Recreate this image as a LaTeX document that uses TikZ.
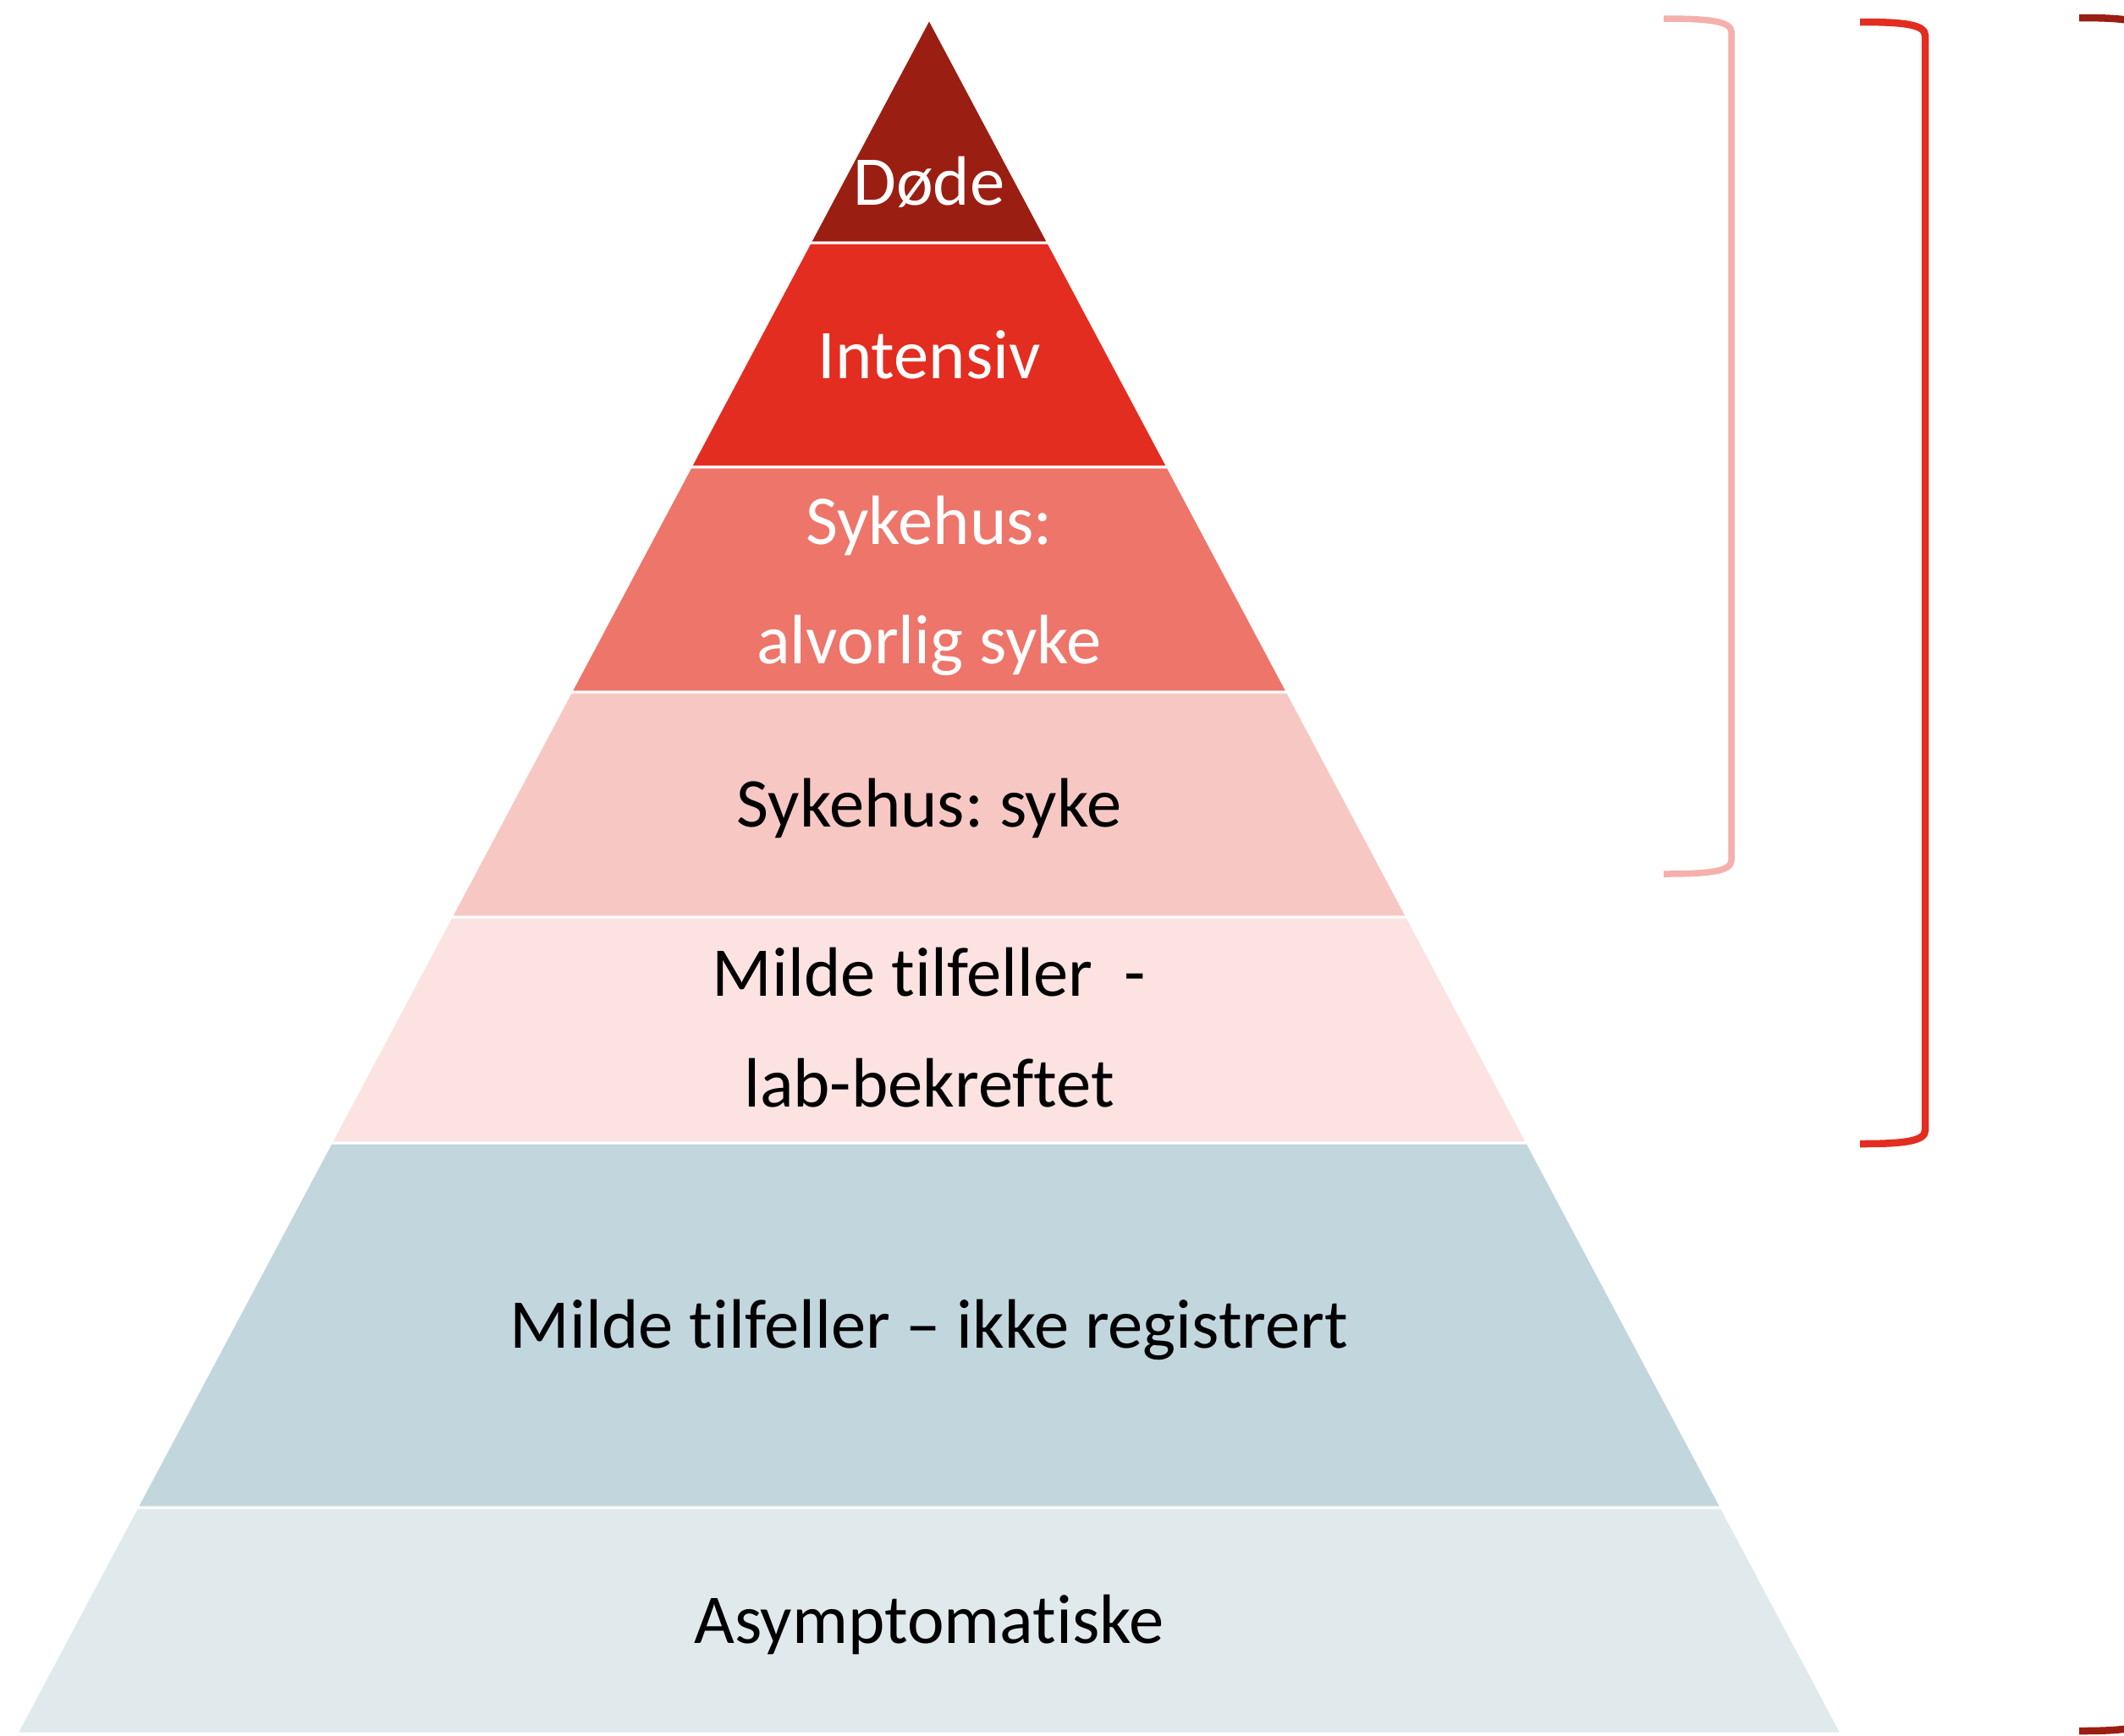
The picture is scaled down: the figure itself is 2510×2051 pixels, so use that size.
\documentclass[tikz,border=0pt]{standalone}
\usepackage{fontspec}
\setmainfont[Ligatures=NoCommon]{Carlito}
\usepackage{xcolor}
\usetikzlibrary{positioning}
\frenchspacing

\definecolor{dodeRed}{HTML}{9A1E12}
\definecolor{intensivRed}{HTML}{E32D20}
\definecolor{alvorligRed}{HTML}{ED756A}
\definecolor{sykePink}{HTML}{F7C8C3}
\definecolor{labPink}{HTML}{FCE3E2}
\definecolor{ikkeBlue}{HTML}{C2D6DD}
\definecolor{asymBlue}{HTML}{E0EAED}
\definecolor{bracketPink}{HTML}{F5B0AC}

\begin{document}
\begin{tikzpicture}[x=0.01cm,y=-0.01cm,
                    band/.style={draw=white,line width=0.03cm},
                    lbl/.style={font=\fontsize{23.5}{40}\selectfont,align=center,inner sep=0pt,anchor=base},
                    bracketline/.style={line width=0.085cm}]
  \clip (0,0) rectangle (2510,2051);
  \fill[white] (0,0) rectangle (2510,2051);

  % pyramid bands: top y / bottom y / colour
  \foreach \t/\b/\c in {22/287/dodeRed, 287/552/intensivRed, 552/818/alvorligRed,
                        818/1084/sykePink, 1084/1351/labPink, 1351/1782/ikkeBlue,
                        1782/2049/asymBlue}
    \filldraw[band,fill=\c] ({1098-0.532*(\t-22)},\t) -- ({1098+0.532*(\t-22)},\t)
                            -- ({1098+0.532*(\b-22)},\b) -- ({1098-0.532*(\b-22)},\b) -- cycle;

  % labels (base = last line)
  \node[lbl,text=white] (dode) at (1098,242) {Døde};
  \node[lbl,text=white] (intensiv) at (1098,447) {Intensiv};
  \node[lbl,text=white] (alvorlig) at (1098,784) {Sykehus:\\alvorlig syke};
  \node[lbl] (syke) at (1098,977) {Sykehus: syke};
  \node[lbl] (lab) at (1098,1308) {Milde tilfeller\ \ -\\[-3pt]lab-bekreftet};
  \node[lbl] (ikke) at (1098,1593) {Milde tilfeller – ikke registrert};
  \node[lbl] (asym) at (1098,1942) {Asymptomatiske};

  % brackets
  \coordinate (pinkTop) at (1966,22);
  \coordinate (pinkBot) at (1966,1033);
  \coordinate (redTop) at (2198,26);
  \coordinate (redBot) at (2198,1352);
  \coordinate (darkTop) at (2457,21);
  \coordinate (darkBot) at (2457,2046);

  \draw[bracketline,bracketPink,line width=0.075cm] (pinkTop) .. controls (2020,22) and (2046,25) .. (2046,38)
        -- (2046,1017) .. controls (2046,1030) and (2020,1033) .. (pinkBot);
  \draw[bracketline,intensivRed] (redTop) .. controls (2250,26) and (2275,29) .. (2275,42)
        -- (2275,1336) .. controls (2275,1349) and (2250,1352) .. (redBot);
  \draw[bracketline,dodeRed] (darkTop) .. controls (2510,21) and (2535,24) .. (2535,37)
        -- (2535,2030) .. controls (2535,2043) and (2510,2046) .. (darkBot);
\end{tikzpicture}
\end{document}
